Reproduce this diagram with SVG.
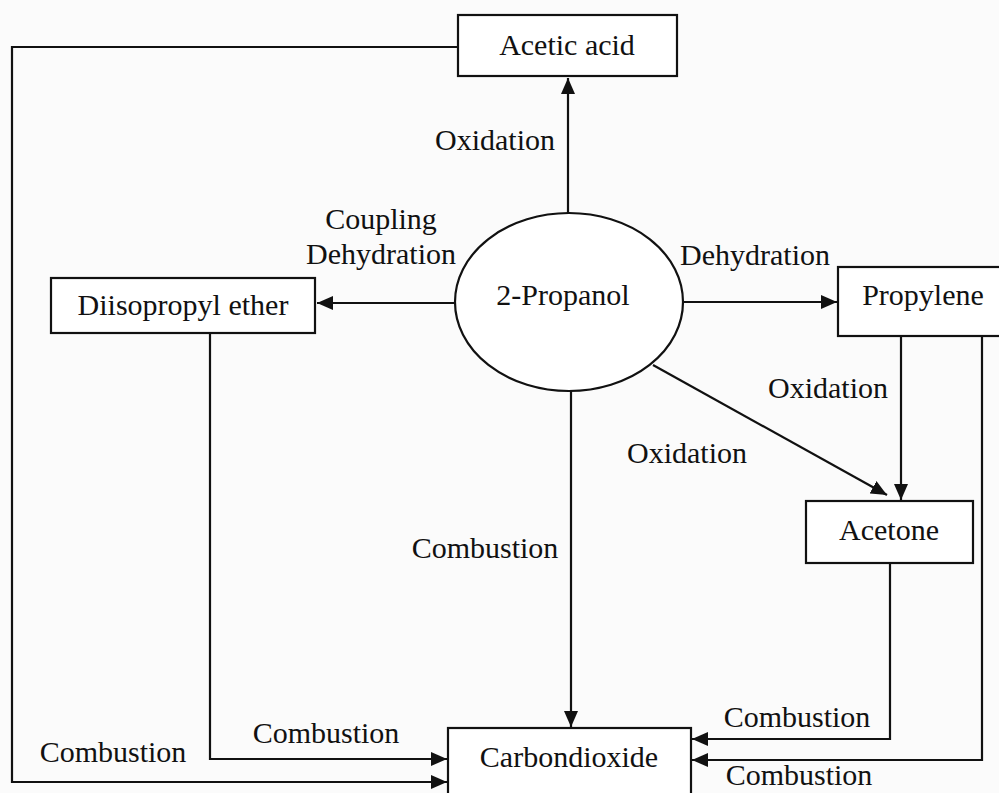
<svg xmlns="http://www.w3.org/2000/svg" width="999" height="793" viewBox="0 0 999 793">
<defs>
<style>
.box{fill:#ffffff;stroke:#111;stroke-width:2.2}
.t{font-family:"Liberation Serif","Times New Roman",serif;font-size:30px;fill:#111;text-anchor:middle}
.c{fill:none;stroke:#111;stroke-width:2.2}
</style>
<marker id="ah" markerUnits="userSpaceOnUse" markerWidth="18" markerHeight="14" refX="16" refY="7" orient="auto">
<path d="M0,0 L16,7 L0,14 Z" fill="#111"/>
</marker>
</defs>
<rect width="999" height="793" fill="#fbfbfb"/>
<g id="connectors">
<path class="c" d="M568,213 L568,78" marker-end="url(#ah)"/>
<path class="c" d="M455,303 L317,303" marker-end="url(#ah)"/>
<path class="c" d="M683,302 L837,302" marker-end="url(#ah)"/>
<path class="c" d="M653,365 L887,495" marker-end="url(#ah)"/>
<path class="c" d="M571,391 L571,727" marker-end="url(#ah)"/>
<path class="c" d="M901,336 L901,500" marker-end="url(#ah)"/>
<path class="c" d="M458,47 L12,47 L12,782 L447,782" marker-end="url(#ah)"/>
<path class="c" d="M210,333 L210,759 L447,759" marker-end="url(#ah)"/>
<path class="c" d="M890,563 L890,739 L692,739" marker-end="url(#ah)"/>
<path class="c" d="M982,336 L982,760 L692,760" marker-end="url(#ah)"/>
</g>
<g id="labels">
<text class="t" x="495" y="150">Oxidation</text>
<text class="t" x="381" y="229">Coupling</text>
<text class="t" x="381" y="264">Dehydration</text>
<text class="t" x="755" y="265">Dehydration</text>
<text class="t" x="828" y="398">Oxidation</text>
<text class="t" x="687" y="463">Oxidation</text>
<text class="t" x="485" y="558">Combustion</text>
<text class="t" x="113" y="762">Combustion</text>
<text class="t" x="326" y="743">Combustion</text>
<text class="t" x="797" y="727">Combustion</text>
<text class="t" x="799" y="785">Combustion</text>
</g>
<g id="acetic-acid">
<rect class="box" x="458" y="15" width="219" height="61"/>
<text class="t" x="567" y="55">Acetic acid</text>
</g>
<g id="propanol">
<ellipse class="box" cx="569" cy="302" rx="114" ry="89"/>
<text class="t" x="563" y="305">2-Propanol</text>
</g>
<g id="diisopropyl-ether">
<rect class="box" x="51" y="278" width="264" height="55"/>
<text class="t" x="183" y="315">Diisopropyl ether</text>
</g>
<g id="propylene">
<rect class="box" x="838" y="267" width="170" height="69"/>
<text class="t" x="923" y="305">Propylene</text>
</g>
<g id="acetone">
<rect class="box" x="806" y="501" width="167" height="62"/>
<text class="t" x="889" y="540">Acetone</text>
</g>
<g id="carbondioxide">
<rect class="box" x="448" y="728" width="243" height="80"/>
<text class="t" x="569" y="767">Carbondioxide</text>
</g>
</svg>
